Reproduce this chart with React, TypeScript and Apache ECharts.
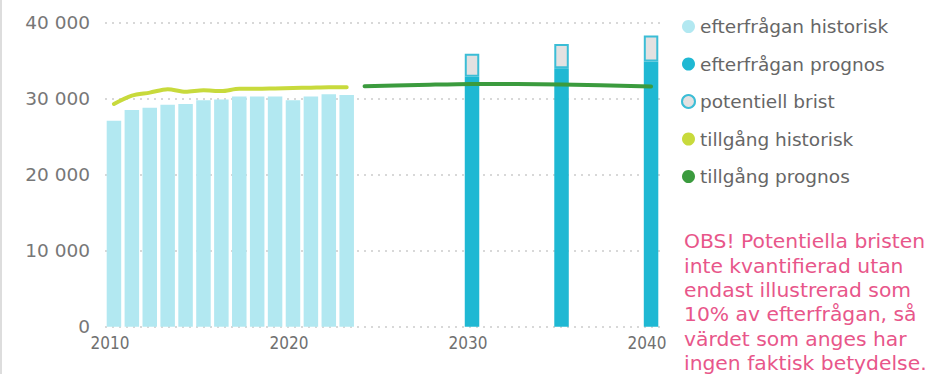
import React, { useEffect, useRef } from "react";
import * as echarts from "echarts";

const years = [
  "2010", "2011", "2012", "2013", "2014", "2015", "2016", "2017", "2018", "2019",
  "2020", "2021", "2022", "2023", "2024", "2025", "2026", "2027", "2028", "2029",
  "2030", "2031", "2032", "2033", "2034", "2035", "2036", "2037", "2038", "2039", "2040",
];

const histYears = [
  "2010", "2011", "2012", "2013", "2014", "2015", "2016",
  "2017", "2018", "2019", "2020", "2021", "2022", "2023",
];
const demandHist = [27100, 28500, 28800, 29200, 29300, 29800, 29900, 30300, 30300, 30300, 29800, 30300, 30600, 30500];
const supplyHist = [29300, 30400, 30800, 31250, 30900, 31100, 31000, 31300, 31300, 31350, 31400, 31450, 31500, 31500];

const forecastYears = ["2030", "2035", "2040"];
const demandForecast = [32900, 34000, 34900];
const shortage = [3000, 3200, 3400];

const supplyForecastYears = ["2024", "2027", "2030", "2035", "2040"];
const supplyForecast = [31650, 31800, 31950, 31880, 31600];

const yTicks = [0, 10000, 20000, 30000, 40000];

const noteLines = [
  "OBS! Potentiella bristen",
  "inte kvantifierad utan",
  "endast illustrerad som",
  "10% av efterfrågan, så",
  "värdet som anges har",
  "ingen faktisk betydelse.",
];

const fill = (keys: string[], vals: number[]) =>
  years.map((y) => {
    const i = keys.indexOf(y);
    return i >= 0 ? vals[i] : null;
  });

const FONT = "'DejaVu Sans', Verdana, sans-serif";

export default function App() {
  const ref = useRef<HTMLDivElement>(null);
  useEffect(() => {
    document.body.style.margin = "0";
    const chart = echarts.init(ref.current!, undefined, { renderer: "svg" });
    chart.setOption({
      animation: false,
      backgroundColor: "#ffffff",
      grid: { left: 105, right: 275, top: 22.7, bottom: 47.3 },
      legend: {
        orient: "vertical",
        left: 676,
        top: 12,
        icon: "circle",
        itemWidth: 13,
        itemHeight: 13,
        itemGap: 18.5,
        textStyle: { fontFamily: FONT, fontSize: 18.5, lineHeight: 19, color: "#666666" },
        data: [
          "efterfrågan historisk",
          "efterfrågan prognos",
          "potentiell brist",
          "tillgång historisk",
          "tillgång prognos",
        ],
      },
      xAxis: {
        type: "category",
        data: years,
        axisLine: { show: false },
        axisTick: { show: false },
        axisLabel: {
          interval: (i: number) => i % 10 === 0,
          fontFamily: "'DejaVu Sans Condensed', 'Liberation Sans Narrow', sans-serif",
          fontSize: 17,
          color: "#707070",
          margin: 8,
          padding: [0, 8, 0, 0],
        },
      },
      yAxis: {
        type: "value",
        min: yTicks[0],
        max: yTicks[yTicks.length - 1],
        interval: 10000,
        axisLine: { show: false },
        axisTick: { show: false },
        axisLabel: {
          fontFamily: FONT,
          fontSize: 18.5,
          color: "#777777",
          margin: 15,
          formatter: (v: number) =>
            v === 0 ? "0" : String(v).replace(/\B(?=(\d{3})+(?!\d))/g, " "),
        },
        splitLine: { lineStyle: { color: "#cccccc", type: [2, 5], width: 1.5 } },
      },
      series: [
        {
          name: "efterfrågan historisk",
          type: "bar",
          stack: "d",
          barWidth: 14.5,
          data: fill(histYears, demandHist),
          itemStyle: { color: "#b2e8f1" },
        },
        {
          name: "efterfrågan prognos",
          type: "bar",
          stack: "d",
          barWidth: 14.5,
          data: fill(forecastYears, demandForecast),
          itemStyle: { color: "#1fb8d3" },
        },
        {
          name: "potentiell brist",
          type: "bar",
          stack: "d",
          barWidth: 14.5,
          data: fill(forecastYears, shortage),
          itemStyle: { color: "#e3e1e1", borderColor: "#3bbdd6", borderWidth: 2 },
        },
        {
          name: "tillgång historisk",
          type: "line",
          data: fill(histYears, supplyHist),
          symbol: "none",
          smooth: 0.3,
          lineStyle: { color: "#c8da3c", width: 4, cap: "round" },
          itemStyle: { color: "#c8da3c" },
          z: 5,
        },
        {
          name: "tillgång prognos",
          type: "line",
          data: fill(supplyForecastYears, supplyForecast),
          connectNulls: true,
          symbol: "none",
          smooth: 0.3,
          lineStyle: { color: "#3b9b3e", width: 4, cap: "round" },
          itemStyle: { color: "#3b9b3e" },
          z: 5,
        },
      ],
      graphic: [
        {
          type: "line",
          shape: { x1: 1, y1: 0, x2: 1, y2: 374 },
          style: { stroke: "#dddddd", lineWidth: 2 },
        },
        {
          type: "text",
          left: 684,
          top: 229,
          style: {
            text: noteLines.join("\n"),
            font: `20.3px ${FONT}`,
            fill: "#e8568a",
            lineHeight: 24.4,
          },
        },
      ],
    });
    return () => chart.dispose();
  }, []);
  return <div ref={ref} style={{ width: 935, height: 374 }} />;
}
